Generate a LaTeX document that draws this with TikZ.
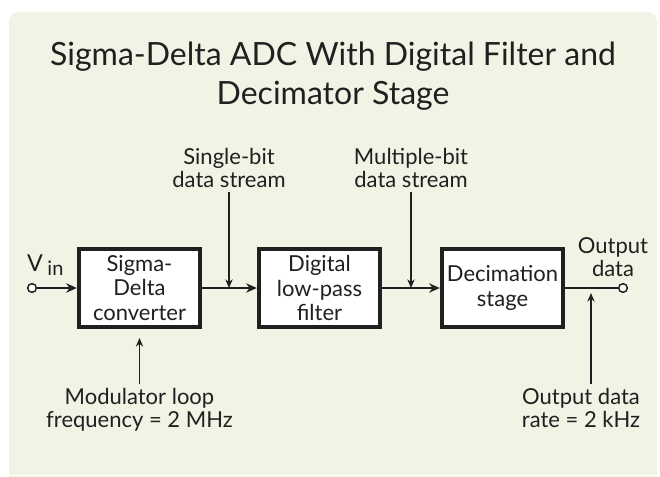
\documentclass[tikz,border=0pt]{standalone}
\usepackage{fontspec}
\setmainfont{Lato}
\usetikzlibrary{arrows.meta, calc}

\definecolor{panel}{RGB}{240,244,228}
\definecolor{ink}{RGB}{35,31,32}

\tikzset{
  stage/.style={draw=ink, line width=3pt, fill=white, minimum width=91pt, minimum height=59pt,
    align=center, inner sep=0pt, text=ink, font=\fontsize{16.5}{18.5}\selectfont},
  lbl/.style={align=center, inner sep=0pt, outer sep=3pt, text=ink, font=\fontsize{16.5}{17.5}\selectfont},
  sig/.style={draw=ink, line width=1.4pt, -{Stealth[length=8pt,width=7pt]}},
  note/.style={draw=ink, line width=0.9pt, -{Stealth[length=6.5pt,width=5.5pt]}},
  port/.style={circle, draw=ink, line width=1.1pt, fill=white, minimum size=6.5pt, inner sep=0pt},
}

\begin{document}
\begin{tikzpicture}[x=0.75pt, y=0.75pt]
        \useasboundingbox (0,0) rectangle (660,476);
        \fill[white] (0,0) rectangle (660,476);
        \fill[panel, rounded corners=7.5pt] (9,-20) rectangle (657,464);
        \fill[white] (0,0) rectangle (660,1);

        \node[anchor=north, align=center, inner sep=0pt, text=ink, font=\fontsize{24}{29}\selectfont]
          (title) at (333,434) {Sigma-Delta ADC With Digital Filter and\\Decimator Stage};

        \node[stage] (conv) at (139.5,188) {Sigma-\\Delta\\converter};
        \node[stage] (lpf) at (319.5,188) {Digital\\low-pass\\filter};
        \node[stage] (dec) at (502.5,188) {Decimation\\stage};

        \node[port] (vin) at (32,188) {};
        \node[port] (vout) at (623,188) {};

        \coordinate (sbtip) at (229,188);
        \coordinate (mbtip) at (411,188);
        \coordinate (ratetip) at (591,183);
        \coordinate (modtip) at (139.5,138);

        \draw[sig] (vin) -- (conv);
        \draw[sig] (conv) -- (lpf);
        \draw[sig] (lpf) -- (dec);
        \draw[ink, line width=1.4pt] (dec) -- (vout);

        \node[lbl, anchor=base west, outer sep=0pt] (vlab) at (27,205)
          {{\fontsize{17.5}{17.5}\selectfont V}\hspace{3.5pt}\raisebox{-3pt}{\fontsize{15}{15}\selectfont in}};
        \node[lbl, anchor=south] (sbit) at (229,284) {Single-bit\\data stream};
        \node[lbl, anchor=south] (mbit) at (411,284) {Multiple-bit\\data stream};
        \node[lbl, anchor=south] (outlab) at (613,195) {Output\\data};
        \node[lbl, anchor=north] (modlab) at (139.5,92) {Modulator loop\\frequency = 2 MHz};
        \node[lbl, anchor=north] (ratelab) at (581,92) {Output data\\rate = 2 kHz};

        \draw[note] (sbit) -- (sbtip);
        \draw[note] (mbit) -- (mbtip);
        \draw[note] (modlab) -- (modtip);
        \draw[note] (ratelab.north -| ratetip) -- (ratetip);
    \end{tikzpicture}
\end{document}
